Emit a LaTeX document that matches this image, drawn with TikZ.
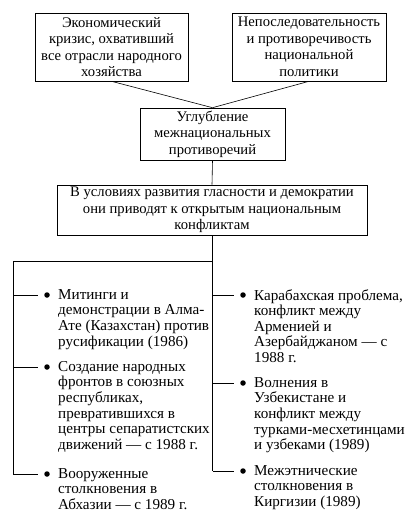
\documentclass[tikz,border=0pt]{standalone}
\usepackage{fontspec}
\setmainfont{Liberation Serif}
\begin{document}
\begin{tikzpicture}[x=1bp,y=-1bp,
  box/.style={draw,line width=0.6bp,align=center,inner sep=0pt,
    font=\fontsize{14.7}{16.6}\selectfont},
  item/.style={anchor=north west,align=left,inner sep=0pt,
    font=\fontsize{15.2}{15.7}\selectfont},
  dot/.style={circle,fill,inner sep=0pt,minimum size=5.5bp},
  conn/.style={line width=0.6bp}]
\useasboundingbox (0,0) rectangle (412,527);
\node[box,minimum width=153bp,minimum height=68bp] (b1) at (111.5,47)
  {Экономический\\кризис, охвативший\\все отрасли народного\\хозяйства};
\node[box,minimum width=154bp,minimum height=68bp] (b2) at (309,47)
  {Непоследовательность\\и противоречивость\\национальной\\политики};
\node[box,minimum width=145bp,minimum height=52bp] (b3) at (212.5,134)
  {Углубление\\межнациональных\\противоречий};
\node[box,minimum width=310bp,minimum height=50bp] (b4) at (212,210)
  {В условиях развития гласности и демократии\\они приводят к открытым национальным\\конфликтам};
\draw[conn] (b1.south) -- (b3.north);
\draw[conn] (b2.south) -- (b3.north);
\draw[conn] (b3.south) -- (b4.north);
\coordinate (j) at (212.5,261);
\coordinate (lt) at (13,261);
\draw[conn] (b4.south -| j) -- (j);
\draw[conn] (j) -- (lt);
% left column
\coordinate (l1) at (13,295);
\coordinate (l2) at (13,367);
\coordinate (l3) at (13,474);
\node[dot] (d1) at (47,295) {};
\node[dot] (d2) at (47,367) {};
\node[dot] (d3) at (47,474) {};
\draw[conn] (lt) -- (l3);
\draw[conn] (l1) -- ([xshift=-6bp]d1.west);
\draw[conn] (l2) -- ([xshift=-6bp]d2.west);
\draw[conn] (l3) -- ([xshift=-6bp]d3.west);
\node[item] (t1) at (58,289) {Митинги и\\демонстрации в Алма-\\Ате (Казахстан) против\\русификации (1986)};
\node[item] (t2) at (58,361) {Создание народных\\фронтов в союзных\\республиках,\\превратившихся в\\центры сепаратистских\\движений — с 1988 г.};
\node[item] (t3) at (58,468) {Вооруженные\\столкновения в\\Абхазии — с 1989 г.};
% right column
\coordinate (r1) at (212.5,295);
\coordinate (r2) at (212.5,383);
\coordinate (r3) at (212.5,471);
\node[dot] (e1) at (243,295) {};
\node[dot] (e2) at (243,383) {};
\node[dot] (e3) at (243,471) {};
\draw[conn] (j) -- (r3);
\draw[conn] (r1) -- ([xshift=-6bp]e1.west);
\draw[conn] (r2) -- ([xshift=-6bp]e2.west);
\draw[conn] (r3) -- ([xshift=-6bp]e3.west);
\node[item] (u1) at (254,289) {Карабахская проблема,\\конфликт между\\Арменией и\\Азербайджаном — с\\1988 г.};
\node[item] (u2) at (254,377) {Волнения в\\Узбекистане и\\конфликт между\\турками-месхетинцами\\и узбеками (1989)};
\node[item] (u3) at (254,465) {Межэтнические\\столкновения в\\Киргизии (1989)};
\end{tikzpicture}
\end{document}
